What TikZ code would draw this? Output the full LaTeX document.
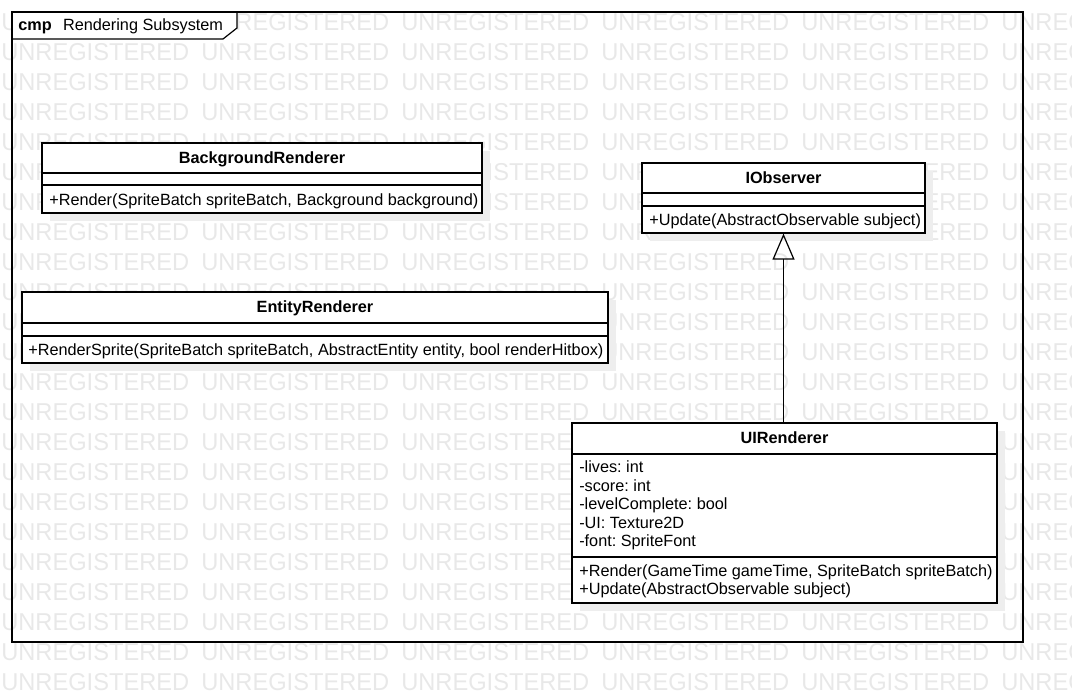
\documentclass[tikz,border=0pt]{standalone}
\usepackage{fontspec}
\setmainfont{Liberation Sans}
\usetikzlibrary{positioning,fit,shadows,arrows.meta}
\frenchspacing

\begin{document}
\begin{tikzpicture}[x=0.75pt,y=-0.75pt,
    every node/.style={inner sep=0pt, font=\fontsize{12.2}{14}\selectfont},
    wm/.style={anchor=west, xscale=0.97, text=wmgray, font=\fontsize{18.3}{18}\selectfont},
    cls/.style={draw, line width=0.9pt, fill=white,
        drop shadow={shadow xshift=6pt, shadow yshift=-6pt, fill=shadowgray, opacity=1}},
    sep/.style={line width=0.9pt},
    title/.style={anchor=base, font=\fontsize{12.2}{14}\selectfont\bfseries},
    member/.style={anchor=base west},
    gen/.style={line width=0.9pt, -{Triangle[open, length=19.5pt, width=16.5pt]}}]
    % light colours of the sheet
    \definecolor{wmgray}{HTML}{E8E8E8}
    \definecolor{shadowgray}{HTML}{EEEEEE}
    \useasboundingbox (0,0) rectangle (1072,692);
    % watermark
    \begin{scope}
        \clip (0,0) rectangle (1072,692);
        \foreach \r in {0,...,22}
            \foreach \c in {0,...,5}
                \node[wm] (wm-\r-\c) at (1+\c*200, 22+\r*30) {UNREGISTERED};
    \end{scope}
    % frame
    \fill[white] (12,12) -- (237,12) -- (237,28) -- (223,39) -- (12,39) -- cycle;
    \draw[line width=0.9pt] (12,12) rectangle (1023,642);
    \draw[line width=0.9pt] (12,39) -- (223,39) -- (237,28) -- (237,12);
    \node[anchor=base west] (frame) at (18,31) {\textbf{cmp}\hspace{8.5pt}Rendering Subsystem};
    % BackgroundRenderer
    \node[cls, fit={(42,143) (482,213)}] (bg) {};
    \draw[sep] (42,173) -- (482,173) (42,185) -- (482,185);
    \node[title] (bg-name) at (262,163.5) {BackgroundRenderer};
    \node[member] (bg-op) at (49,205) {+Render(SpriteBatch spriteBatch, Background background)};
    % EntityRenderer
    \node[cls, fit={(22,292) (608,363)}] (ent) {};
    \draw[sep] (22,323) -- (608,323) (22,336) -- (608,336);
    \node[title] (ent-name) at (315,312.5) {EntityRenderer};
    \node[member] (ent-op) at (28,355) {+RenderSprite(SpriteBatch spriteBatch, AbstractEntity entity, bool renderHitbox)};
    % IObserver
    \node[cls, fit={(642,163) (925,233)}] (obs) {};
    \draw[sep] (642,193) -- (925,193) (642,206) -- (925,206);
    \node[title] (obs-name) at (783.5,183.5) {IObserver};
    \node[member] (obs-op) at (649,225) {+Update(AbstractObservable subject)};
    % UIRenderer
    \node[cls, fit={(572,423) (997,603)}] (ui) {};
    \draw[sep] (572,454) -- (997,454) (572,557) -- (997,557);
    \node[title] (ui-name) at (784.5,443.5) {UIRenderer};
    \foreach \t [count=\i] in {-lives: int, -score: int, -levelComplete: bool, -UI: Texture2D, -font: SpriteFont}
        \node[member] (ui-at\i) at (579,453.9+\i*18.6) {\t};
    \node[member] (ui-op1) at (579,576) {+Render(GameTime gameTime, SpriteBatch spriteBatch)};
    \node[member] (ui-op2) at (579,594.5) {+Update(AbstractObservable subject)};
    % realization
    \draw[gen] (ui.north -| obs.south) -- (obs.south);
\end{tikzpicture}
\end{document}
